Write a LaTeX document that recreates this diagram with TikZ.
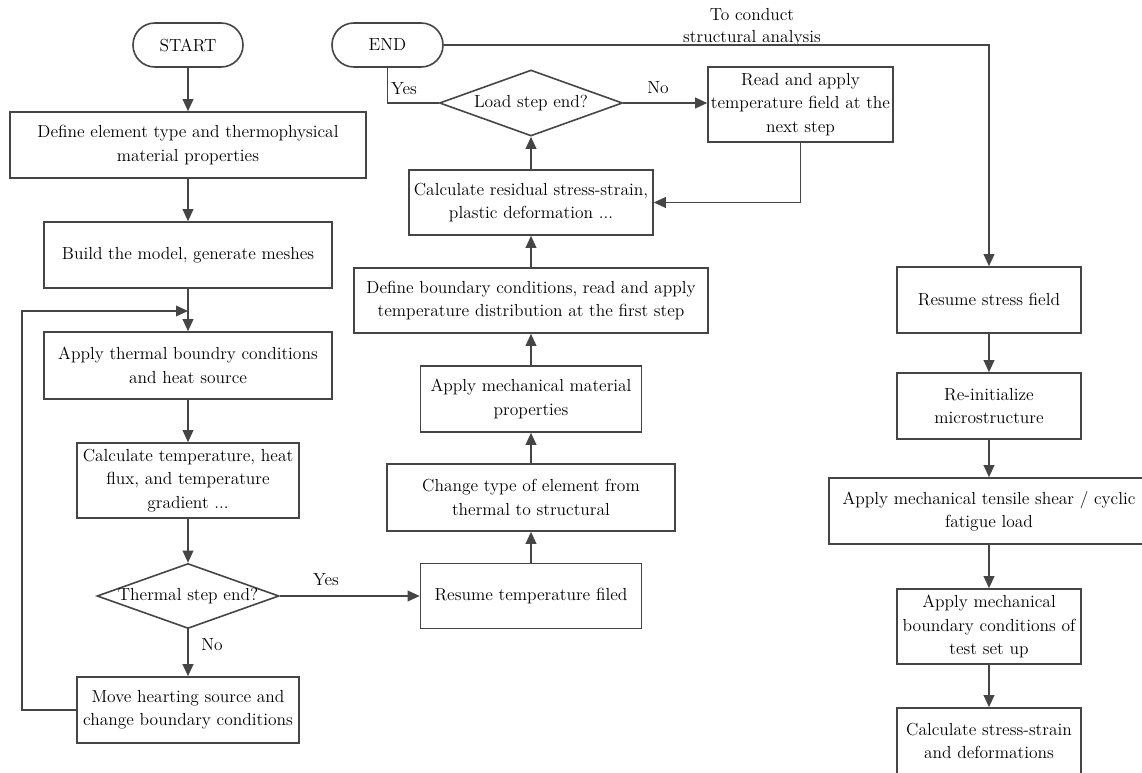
\documentclass[tikz,border=0pt]{standalone}
\usepackage{fontspec}
\usetikzlibrary{arrows.meta,shapes.geometric}
\definecolor{lncol}{HTML}{454545}
\definecolor{txcol}{HTML}{000000}
\begin{document}
\begin{tikzpicture}[x=0.75pt,y=-0.75pt,
  font=\rmfamily\fontsize{13.1pt}{17.5pt}\selectfont,
  every node/.style={text=txcol},
  box/.style={draw=lncol,line width=1.2pt,align=center,inner sep=0pt,fill=white},
  term/.style={box,rounded corners=16.4pt},
  dia/.style={draw=lncol,line width=1.2pt,diamond,inner sep=0pt},
  arr/.style={draw=lncol,line width=1.2pt,-{Triangle[length=9pt,width=8pt]}},
  conn/.style={draw=lncol,line width=1.2pt},
  lab/.style={inner sep=0pt,align=center}]
\useasboundingbox (0,0) rectangle (1142,773);
\clip (0,0) rectangle (1142,773);

% left column
\node[term,minimum width=82.5pt,minimum height=33pt] (start) at (188,45) {START};
\node[term,minimum width=83.25pt,minimum height=33pt] (endn) at (387.5,45) {END};
\node[box,minimum width=267pt,minimum height=49.5pt] (define) at (188,145) {Define element type and thermophysical\\material properties};
\node[box,minimum width=216pt,minimum height=49.5pt] (build) at (188,255) {Build the model, generate meshes};
\node[box,minimum width=216pt,minimum height=50.25pt] (applyth) at (188,365.5) {Apply thermal boundry conditions\\and heat source};
\node[box,minimum width=166.5pt,minimum height=56.25pt] (calctemp) at (188,480.5) {Calculate temperature, heat\\flux, and temperature\\gradient ...};
\node[dia,minimum width=136.5pt,minimum height=48.75pt] (thermal) at (188,596) {};
\node[lab] (thermaltxt) at (thermal.center) {Thermal step end?};
\node[box,minimum width=166.5pt,minimum height=49.5pt] (move) at (188,710) {Move hearting source and\\change boundary conditions};
\coordinate (join) at (188,311);
\coordinate (loopb) at (22,710);
\coordinate (loopt) at (22,311);

% middle column
\node[box,minimum width=165.75pt,minimum height=48.75pt] (resumeT) at (531,596) {Resume temperature filed};
\node[box,minimum width=216pt,minimum height=50.25pt] (change) at (531,497.5) {Change type of element from\\thermal to structural};
\node[box,minimum width=165.75pt,minimum height=49.5pt] (applymech) at (531,399) {Apply mechanical material\\properties};
\node[box,minimum width=265.5pt,minimum height=48.75pt] (defbound) at (531,300.5) {Define boundary conditions, read and apply\\temperature distribution at the first step};
\node[box,minimum width=183pt,minimum height=48.75pt] (calcres) at (531,202.5) {Calculate residual stress-strain,\\plastic deformation ...};
\node[dia,minimum width=137.25pt,minimum height=49.5pt] (load) at (531,103) {};
\node[lab] (loadtxt) at (load.center) {Load\,\,step end?};
\node[box,minimum width=138.75pt,minimum height=56.25pt] (read) at (800.5,104.5) {Read and apply\\temperature field at the\\next step};
\coordinate (readcorner) at (800.5,202.5);
\coordinate (yescorner) at (387.5,103);

% right column
\node[box,minimum width=138pt,minimum height=49.5pt] (resumeS) at (989,300) {Resume stress field};
\node[box,minimum width=138pt,minimum height=49.5pt] (reinit) at (989,406) {Re-initialize\\microstructure};
\node[box,minimum width=240pt,minimum height=49.5pt] (tensile) at (989,511) {Apply mechanical tensile shear / cyclic\\fatigue load};
\node[box,minimum width=138pt,minimum height=56.25pt] (mechbound) at (989,626.5) {Apply mechanical\\boundary conditions of\\test set up};
\node[box,minimum width=138pt,minimum height=49.5pt] (calcss) at (989,741) {Calculate stress-strain\\and deformations};
\coordinate (endcorner) at (989,45);

% labels
\node[lab] (yes1) at (326,580) {Yes};
\node[lab] (no1) at (212,645) {No};
\node[lab] (yes2) at (404,89) {Yes};
\node[lab] (no2) at (658,88) {No};
\node[lab,font=\rmfamily\fontsize{13.1pt}{16.5pt}\selectfont] (struct) at (752,27) {To conduct\\structural analysis};

% connectors left
\draw[arr] (start) -- (define);
\draw[arr] (define) -- (build);
\draw[arr] (build) -- (applyth);
\draw[arr] (applyth) -- (calctemp);
\draw[arr] (calctemp) -- (thermal);
\draw[arr] (thermal.east) -- (thermal.east -| resumeT.west);
\draw[arr] (thermal.south) -- (move.north);
\draw[arr] (move.west) -- (loopb) -- (loopt) -- (join);

% connectors middle
\draw[arr] (resumeT) -- (change);
\draw[arr] (change) -- (applymech);
\draw[arr] (applymech) -- (defbound);
\draw[arr] (defbound) -- (calcres);
\draw[arr] (calcres) -- (load.south);
\draw[arr] (load.east) -- (load.east -| read.west);
\draw[arr] (read.south) -- (readcorner) -- (calcres.east);
\draw[conn] (load.west) -- (yescorner) -- (endn.south);

% connectors right
\draw[arr] (endn.east) -- (endcorner) -- (resumeS.north);
\draw[arr] (resumeS) -- (reinit);
\draw[arr] (reinit) -- (tensile);
\draw[arr] (tensile) -- (mechbound);
\draw[arr] (mechbound) -- (calcss);
\end{tikzpicture}
\end{document}
